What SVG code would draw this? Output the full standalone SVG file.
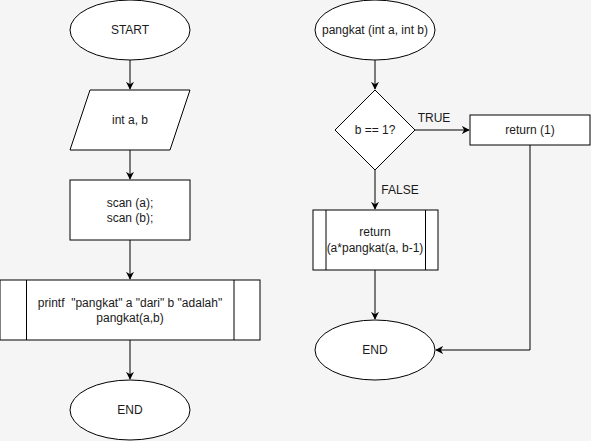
<svg xmlns="http://www.w3.org/2000/svg" width="591" height="441" viewBox="0 0 591 441">
  <style>
    .shape { fill: #ffffff; stroke: #000000; stroke-width: 1; }
    .edge { fill: none; stroke: #000000; stroke-width: 1; marker-end: url(#arrow); }
    text { font-family: "Liberation Sans", Arial, Helvetica, sans-serif; font-size: 12px; fill: #1a1a1a; text-anchor: middle; dominant-baseline: central; white-space: pre; }
  </style>
  <defs>
    <marker id="arrow" viewBox="0 0 10 10" refX="9" refY="5" markerWidth="8" markerHeight="8" markerUnits="userSpaceOnUse" orient="auto">
      <path d="M0,0 L10,5 L0,10 L3,5 Z" fill="#000000"/>
    </marker>
  </defs>
  <rect width="591" height="441" fill="#f5f5f5"/>

  <!-- connectors -->
  <g id="connectors">
    <path class="edge" d="M130,60 L130,89"/>
    <path class="edge" d="M130,150 L130,179"/>
    <path class="edge" d="M130,240 L130,279"/>
    <path class="edge" d="M130,340 L130,379"/>
    <path class="edge" d="M375,60 L375,89"/>
    <path class="edge" d="M415,130 L469,130"/>
    <path class="edge" d="M375,170 L375,209"/>
    <path class="edge" d="M375,270 L375,319"/>
    <path class="edge" d="M530,145 L530,350 L436,350"/>
    <text x="434" y="118">TRUE</text>
    <text x="400" y="190">FALSE</text>
  </g>

  <!-- main program -->
  <g id="start">
    <ellipse class="shape" cx="130" cy="30" rx="60" ry="30"/>
    <text x="130" y="30">START</text>
  </g>
  <g id="input">
    <polygon class="shape" points="90,90 190,90 170,150 70,150"/>
    <text x="130" y="120">int a, b</text>
  </g>
  <g id="scan">
    <rect class="shape" x="70" y="180" width="120" height="60"/>
    <text x="130" y="203">scan (a);</text>
    <text x="130" y="218">scan (b);</text>
  </g>
  <g id="print">
    <rect class="shape" x="0" y="280" width="260" height="60"/>
    <path class="shape" d="M26.5,280 L26.5,340 M234,280 L234,340"/>
    <text x="130" y="303" xml:space="preserve">printf  "pangkat" a "dari" b "adalah"</text>
    <text x="130" y="318">pangkat(a,b)</text>
  </g>
  <g id="end-main">
    <ellipse class="shape" cx="130" cy="410" rx="60" ry="30"/>
    <text x="130" y="410">END</text>
  </g>

  <!-- recursive function -->
  <g id="func">
    <ellipse class="shape" cx="375" cy="30" rx="60" ry="30"/>
    <text x="375" y="30">pangkat (int a, int b)</text>
  </g>
  <g id="check">
    <polygon class="shape" points="375,90 415,130 375,170 335,130"/>
    <text x="375" y="130">b == 1?</text>
  </g>
  <g id="return-one">
    <rect class="shape" x="470" y="115" width="120" height="30"/>
    <text x="530" y="130">return (1)</text>
  </g>
  <g id="return-rec">
    <rect class="shape" x="313" y="210" width="125" height="60"/>
    <path class="shape" d="M326,210 L326,270 M425.5,210 L425.5,270"/>
    <text x="375" y="232">return</text>
    <text x="375" y="248">(a*pangkat(a, b-1)</text>
  </g>
  <g id="end-func">
    <ellipse class="shape" cx="375" cy="350" rx="60" ry="30"/>
    <text x="375" y="350">END</text>
  </g>
</svg>
